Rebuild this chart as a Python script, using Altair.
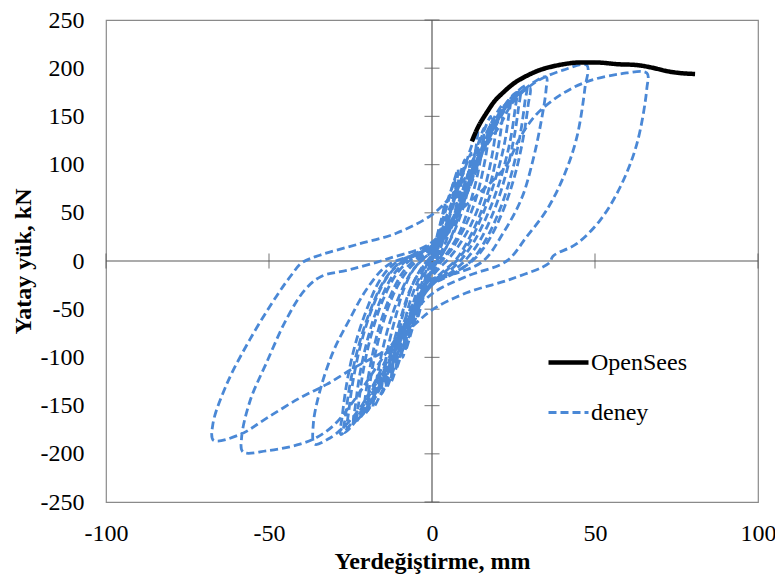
import altair as alt
import pandas as pd

# ---- data ----
x_ticks = [-100, -50, 0, 50, 100]
y_ticks = [-250, -200, -150, -100, -50, 0, 50, 100, 150, 200, 250]

opensees_x = [12.2, 14, 16.8, 19, 21.9, 25, 29, 33, 37.2, 41, 45.4, 50, 57.7, 62, 66.9, 69.5, 72, 76, 80.7]
opensees_y = [124, 138, 154, 165, 175, 184, 192, 198, 202, 204.5, 206, 206, 204, 203.5, 201, 199, 197, 195, 194]

# first cycle of every amplitude, in test order
deney_pts = [
    (0, 0), (1.5, 25), (3, 45), (4, 60),
    (3.5, 45), (2.5, 25), (1, 8), (0, -5), (-1.5, -22), (-3, -42), (-4.5, -60),
    (-4, -48), (-3, -30), (-1.5, -12), (0, 2), (1.5, 18), (3, 38), (5, 62), (7, 85),
    (6.5, 70), (5, 45), (3, 20), (1.5, 5), (0, -8), (-2, -25), (-4, -48), (-6, -70), (-8, -92),
    (-7.5, -78), (-6, -55), (-4, -32), (-2, -12), (0, 4), (2, 20), (4, 42), (7, 70), (10, 105),
    (9.5, 90), (8, 65), (6, 38), (4, 18), (2, 4), (0, -10), (-2, -26), (-5, -52), (-8, -82), (-11, -112),
    (-10.5, -98), (-9, -72), (-7, -45), (-4.5, -22), (-2, -5), (0, 6), (3, 25), (6, 52), (9, 85), (12, 118), (14, 135),
    (13.5, 118), (12, 90), (10, 60), (7, 32), (4, 12), (1.5, 0), (0, -10), (-3, -30), (-6, -58), (-10, -95), (-14, -132),
    (-13.5, -115), (-12, -88), (-9.5, -58), (-7, -32), (-4, -12), (-1, 2), (2, 14), (6, 40), (10, 80), (14, 118), (18, 150),
    (17.5, 132), (16, 100), (13.5, 65), (10, 35), (6, 12), (3, 0), (0, -14), (-4, -38), (-8, -70), (-12, -108), (-16, -140), (-18, -152),
    (-17.5, -135), (-16, -105), (-13.5, -70), (-10.5, -40), (-7, -15), (-3.5, 0), (0, 10), (4, 28), (9, 65), (14, 110), (18, 142), (22, 163),
    (21.5, 145), (20, 112), (17.5, 75), (14, 42), (10, 15), (7, 0), (3, -12), (0, -22), (-4, -42), (-9, -78), (-14, -118), (-18, -145), (-21, -160),
    (-20.5, -142), (-19, -110), (-16.5, -72), (-13, -38), (-9, -12), (-5, 2), (0, 14), (5, 32), (10, 70), (15, 115), (20, 150), (26, 175),
    (25.5, 158), (24, 125), (21, 85), (17, 48), (12.5, 18), (8.6, 0), (4, -14), (0, -25), (-5, -48), (-10, -85), (-15, -122), (-20, -152), (-24, -168),
    (-23.5, -150), (-22, -115), (-19.5, -78), (-16, -42), (-12, -15), (-8, 0), (-3, 10), (0, 16), (6, 36), (12, 80), (17, 125), (22, 160), (29, 182),
    (28.5, 165), (27, 130), (24.5, 92), (21, 55), (16.5, 22), (12, 0), (6, -14), (0, -25), (-5, -50), (-11, -90), (-17, -130), (-22, -160), (-27, -178),
    (-26.5, -160), (-25, -125), (-22.5, -88), (-19, -52), (-15, -22), (-11, -5), (-6, 6), (0, 18), (6, 40), (12, 85), (18, 130), (25, 168), (35, 191),
    (35, 178), (33.5, 145), (31, 105), (27.5, 65), (22, 30), (15.7, 0), (8, -12), (0, -19), (-5, -40), (-11, -80), (-17, -122), (-22, -152), (-27, -172), (-32, -185), (-36, -190),
    (-36.4, -169), (-34.4, -135), (-30.3, -94), (-25.2, -60), (-20, -29), (-13.9, -5), (-6, 6), (0, 15), (5, 35), (10, 70), (15, 110), (20.9, 141), (24.9, 165), (32, 186), (40.2, 198), (47.5, 203),
    (46.9, 179), (44.4, 128), (40.3, 87), (35.2, 53), (29, 25), (22.9, 0), (10.6, -16), (0.4, -33), (-6, -55), (-12, -85), (-18, -115), (-24, -145), (-30, -170), (-35.4, -183), (-40.5, -190), (-50.7, -197), (-58, -198),
    (-58.4, -183), (-55.8, -145), (-50.7, -105), (-44.6, -60), (-39, -30), (-34, -16), (-25.2, -9), (-12.9, 3), (-0.6, 18), (8, 50), (15, 72), (20, 88), (23, 100), (27, 128), (32, 152), (39.3, 172), (47.5, 186), (57.7, 194), (65.9, 195),
    (65.9, 179), (62.8, 121), (57.7, 76.5), (51.5, 42), (44.4, 18), (37.1, 5), (36, -2), (24, -19), (10.6, -33), (0.4, -50), (-6, -68), (-12, -88), (-18, -100), (-24, -111), (-32.3, -128), (-40.5, -142), (-50.7, -163), (-58.9, -180), (-67, -186),
    (-67.2, -169), (-63, -128), (-55.8, -81), (-47.6, -36), (-43, -14), (-40, -2), (-34.4, 6), (-23.1, 17), (-10.8, 29), (0.4, 49), (6, 68), (11, 90),
]

# repeated cycles at the smaller amplitudes (the dense band around the origin)
deney_repeat_pts = [
    (0, 0), (2, 30), (4, 55), (6, 75), (8, 95),
    (7.5, 80), (6, 55), (4, 28), (2, 8), (0, -6), (-2, -22), (-4.5, -50), (-7, -78), (-9, -100),
    (-8.5, -85), (-7, -60), (-5, -35), (-3, -15), (-1, 0), (1, 10), (4, 35), (7, 65), (10, 95), (12, 112),
    (11.5, 98), (10, 72), (8, 45), (5.5, 22), (3, 6), (0, -9), (-3, -28), (-6, -58), (-9.5, -95), (-12.5, -125),
    (-12, -108), (-10.5, -80), (-8.5, -50), (-6, -25), (-3, -6), (0, 5), (3, 20), (7, 50), (11, 90), (14, 120), (16, 138),
    (15.5, 120), (14, 90), (11.5, 58), (8.5, 30), (5, 10), (2, -2), (0, -12), (-3.5, -34), (-7.5, -68), (-11.5, -105), (-15.5, -138),
    (-15, -120), (-13.5, -90), (-11, -56), (-8.5, -28), (-5.5, -8), (-2, 4), (1, 12), (6, 35), (11, 78), (15, 115), (20, 150),
    (19.5, 133), (18, 102), (15.5, 68), (12, 38), (8, 15), (5, 2), (1, -12), (-3, -30), (-8, -66), (-13, -108), (-17, -138), (-20, -156),
    (-19.5, -138), (-18, -106), (-15.5, -70), (-12, -36), (-8, -12), (-4, 2), (1, 14), (7, 42), (12, 88), (17, 130), (21, 155), (24, 168),
    (23.5, 150), (22, 118), (19, 80), (15, 44), (11, 16), (7.5, 0), (3, -14), (0, -22), (-5, -46), (-10, -84), (-15, -120), (-19, -148), (-23, -165),
    (-22.5, -148), (-21, -112), (-18.5, -75), (-15, -40), (-11, -14), (-7, 0), (-2, 10), (2, 18), (8, 48), (14, 100), (19, 140), (24, 166), (27, 176),
    (26.5, 158), (25, 125), (22.5, 88), (19, 52), (14.5, 20), (10, 0), (5, -14), (0, -24), (-6, -52), (-12, -95), (-18, -135), (-23, -162), (-26, -175),
    (-25.5, -155), (-24, -120), (-21.5, -82), (-18, -46), (-14, -18), (-10, -3), (-5, 6), (0, 16), (6, 40), (12, 88), (18, 132), (24, 165), (30, 180),
    (29.5, 162), (28, 128), (25.5, 90), (22, 54), (17.5, 22), (13, 2), (6, -14), (0, -22), (-6, -50), (-12, -92), (-18, -132), (-23, -160), (-28, -180),
    (-27.5, -160), (-26, -124), (-23.5, -86), (-20, -50), (-16, -20), (-12, -4), (-6, 6), (0, 14),
]

series_names = ["OpenSees", "deney"]
series_colors = ["#000000", "#4a88d6"]

# ---- tables ----
df_open = pd.DataFrame({"x": opensees_x, "y": opensees_y, "series": "OpenSees",
                        "seg": 0, "i": range(len(opensees_x))})
df_d1 = pd.DataFrame({"x": [p[0] for p in deney_pts], "y": [p[1] for p in deney_pts],
                      "series": "deney", "seg": 1, "i": range(len(deney_pts))})
df_d2 = pd.DataFrame({"x": [p[0] for p in deney_repeat_pts], "y": [p[1] for p in deney_repeat_pts],
                      "series": "deney", "seg": 2, "i": range(len(deney_repeat_pts))})
df_deney = pd.concat([df_d2, df_d1], ignore_index=True)
df_xt = pd.DataFrame({"x": x_ticks, "y": [0] * len(x_ticks)})
df_yt = pd.DataFrame({"y": y_ticks, "x": [0] * len(y_ticks)})
df_zero = pd.DataFrame({"v": [0]})

FONT = "Times New Roman, Liberation Serif, serif"
AX = "#595959"

xscale = alt.Scale(domain=[-100, 100], nice=False)
yscale = alt.Scale(domain=[-250, 250], nice=False)

x_enc = alt.X("x:Q", scale=xscale, axis=alt.Axis(
    title="Yerdeğiştirme, mm", values=x_ticks, labelExpr="'' + datum.value",
    labelPadding=19, titlePadding=4))
y_enc = alt.Y("y:Q", scale=yscale, axis=alt.Axis(
    title="Yatay yük, kN", values=y_ticks, labelExpr="'' + datum.value",
    labelPadding=22, titlePadding=5))

color = alt.Color("series:N", scale=alt.Scale(domain=series_names, range=series_colors), title=None)
dash = alt.StrokeDash("series:N", scale=alt.Scale(domain=series_names, range=[[1, 0], [8, 4]]), title=None)
swidth = alt.StrokeWidth("series:N", scale=alt.Scale(domain=series_names, range=[4.5, 2.8]), title=None)

zero_h = alt.Chart(df_zero).mark_rule(color=AX, strokeWidth=1.2).encode(y=alt.Y("v:Q", scale=yscale))
zero_v = alt.Chart(df_zero).mark_rule(color=AX, strokeWidth=1.2).encode(x=alt.X("v:Q", scale=xscale))
xt = alt.Chart(df_xt).mark_tick(orient="vertical", size=15, thickness=1.2, color=AX).encode(
    x=alt.X("x:Q", scale=xscale), y=alt.Y("y:Q", scale=yscale))
yt = alt.Chart(df_yt).mark_tick(orient="horizontal", size=15, thickness=1.2, color=AX).encode(
    x=alt.X("x:Q", scale=xscale), y=alt.Y("y:Q", scale=yscale))

deney = alt.Chart(df_deney).mark_line(interpolate="catmull-rom").encode(
    x=x_enc, y=y_enc, order="i:Q", detail="seg:N",
    color=color, strokeDash=dash, strokeWidth=swidth)
opens = alt.Chart(df_open).mark_line(interpolate="monotone").encode(
    x=x_enc, y=y_enc, order="i:Q", color=color, strokeDash=dash, strokeWidth=swidth)

chart = alt.layer(zero_h, zero_v, xt, yt, deney, opens).properties(
    width=652, height=482,
    autosize=alt.AutoSizeParams(type="none"),
    padding={"left": 98, "top": 12, "right": 17, "bottom": 74},
).configure_view(stroke="#8a8a8a", strokeWidth=1.2).configure_axis(
    grid=False, domain=False, ticks=False, labelFont=FONT, labelFontSize=24,
    labelColor="#000000", titleFont=FONT, titleFontSize=24, titleFontWeight="bold",
    titleColor="#000000", labelFlush=False, labelOverlap=False,
).configure_legend(
    orient="none", legendX=440, legendY=320, symbolType="stroke", symbolSize=1600,
    labelFont=FONT, labelFontSize=24, labelColor="#000000", rowPadding=16,
    labelOffset=0, padding=0, symbolOpacity=1,
)

chart.save("out.html", embed_options={"renderer": "svg", "actions": False})
